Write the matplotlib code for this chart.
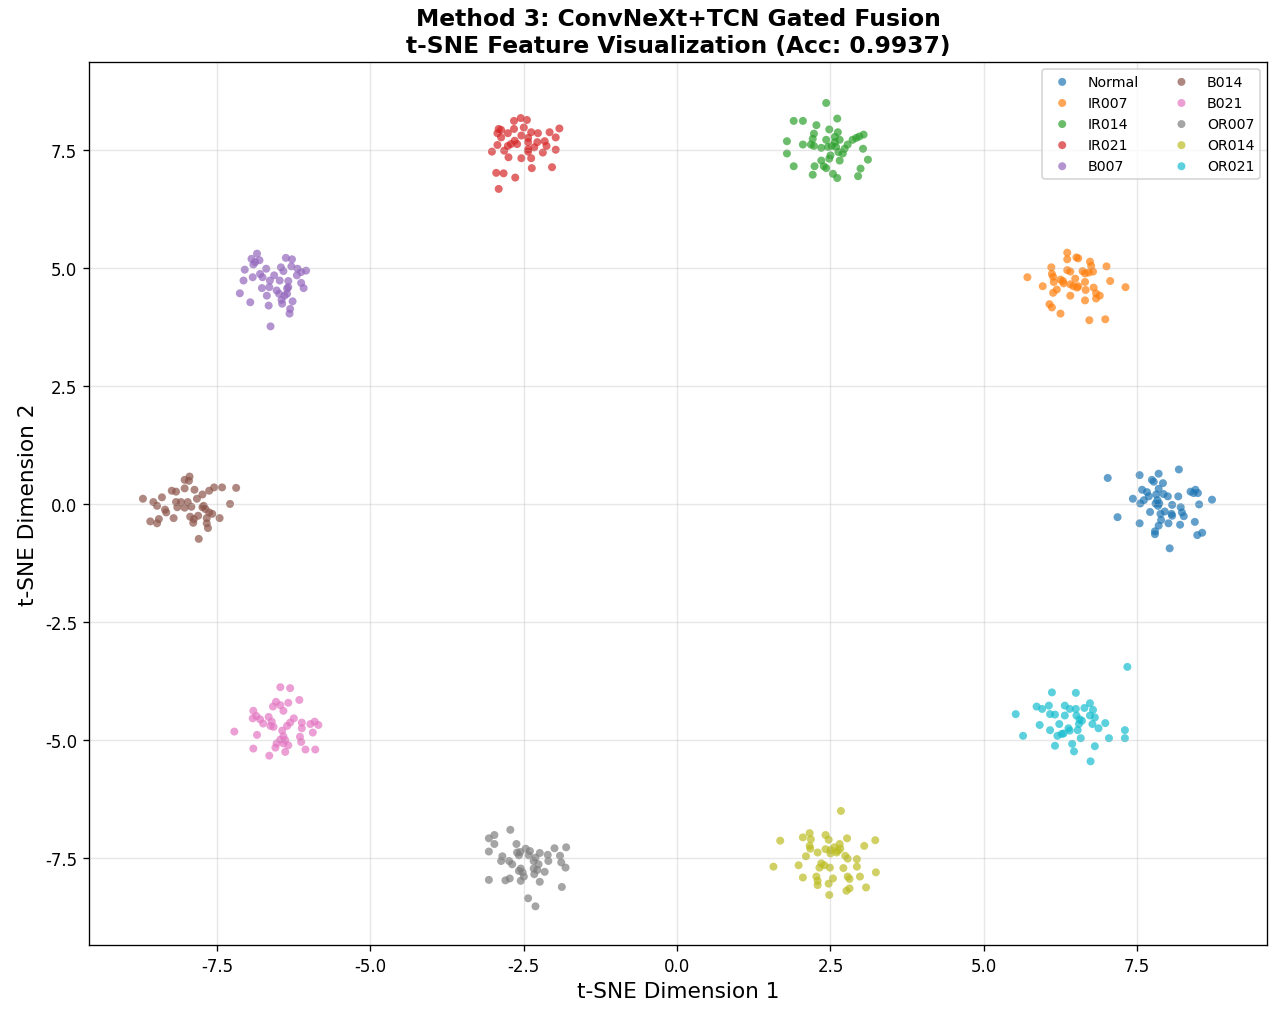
import numpy as np
import matplotlib.pyplot as plt

plt.rcParams['axes.unicode_minus'] = False

classes = ['Normal', 'IR007', 'IR014', 'IR021', 'B007',
           'B014', 'B021', 'OR007', 'OR014', 'OR021']

# t-SNE embedding
normal_x = [7.02, 7.54, 7.85, 8.18, 7.74, 7.77, 7.92, 7.58, 7.66, 7.85, 7.43, 7.55, 7.61, 7.69,
            7.81, 7.93, 8.00, 7.80, 7.86, 7.84, 8.07, 8.17, 8.37, 8.45, 8.49, 8.42, 8.72, 8.51,
            8.21, 8.23, 8.26, 8.06, 8.07, 7.95, 7.88, 7.71, 7.18, 7.54, 7.85, 7.89, 8.01, 8.20,
            8.44, 7.79, 7.79, 8.48, 8.56, 8.03, 7.83]
normal_y = [0.55, 0.61, 0.64, 0.73, 0.51, 0.47, 0.44, 0.30, 0.25, 0.32, 0.11, 0.01, 0.08, 0.16,
            0.20, 0.21, 0.16, 0.01, 0.01, -0.04, -0.02, 0.16, 0.26, 0.30, 0.23, 0.23, 0.09, -0.01,
            -0.07, -0.18, -0.26, -0.21, -0.25, -0.16, -0.21, -0.17, -0.28, -0.41, -0.46, -0.34,
            -0.41, -0.44, -0.38, -0.58, -0.64, -0.66, -0.61, -0.94, 0.08]

ir007_x = [6.36, 6.36, 6.51, 6.54, 6.73, 6.75, 7.00, 6.10, 5.71, 6.11, 6.13, 6.36, 6.41, 6.61,
           6.65, 6.71, 6.78, 6.14, 6.25, 6.29, 6.30, 6.41, 6.49, 6.46, 6.52, 6.54, 6.65, 5.96,
           6.19, 6.13, 6.66, 6.79, 6.83, 6.89, 6.83, 6.41, 6.65, 7.06, 7.31, 6.07, 6.11, 6.25,
           6.72, 6.98]
ir007_y = [5.32, 5.18, 5.22, 5.20, 5.13, 5.04, 5.03, 5.01, 4.80, 4.87, 4.81, 4.95, 4.92, 4.93,
           4.88, 4.90, 4.92, 4.70, 4.75, 4.72, 4.67, 4.65, 4.77, 4.61, 4.58, 4.61, 4.70, 4.61,
           4.54, 4.47, 4.53, 4.58, 4.46, 4.41, 4.35, 4.41, 4.31, 4.72, 4.59, 4.23, 4.16, 4.03,
           3.89, 3.91]

ir014_x = [2.43, 1.90, 2.05, 2.61, 2.27, 2.48, 2.62, 2.23, 1.79, 2.21, 2.43, 2.57, 2.65, 2.92,
           2.97, 3.04, 2.05, 2.18, 2.23, 2.35, 2.46, 2.52, 2.59, 2.73, 2.78, 2.86, 1.79, 3.03,
           2.70, 2.50, 2.48, 2.35, 2.65, 3.11, 1.90, 2.24, 2.39, 2.43, 2.21, 2.54, 2.61, 2.95,
           2.99, 2.57, 2.63]
ir014_y = [8.49, 8.11, 8.11, 8.16, 8.02, 7.93, 7.87, 7.84, 7.68, 7.73, 7.71, 7.77, 7.71, 7.75,
           7.78, 7.82, 7.61, 7.61, 7.58, 7.54, 7.56, 7.58, 7.56, 7.52, 7.61, 7.71, 7.42, 7.52,
           7.42, 7.38, 7.31, 7.27, 7.27, 7.29, 7.15, 7.15, 7.15, 7.11, 6.97, 6.99, 6.90, 6.94,
           7.10, 7.66, 7.45]

ir021_x = [-2.66, -2.55, -2.45, -2.91, -2.87, -2.93, -2.66, -2.50, -2.76, -2.87, -2.54, -2.38,
           -2.27, -2.08, -1.92, -1.98, -2.65, -2.43, -2.28, -2.16, -2.13, -2.76, -2.71, -2.93,
           -3.02, -2.82, -2.43, -2.43, -2.19, -1.98, -2.75, -2.54, -2.38, -2.37, -2.04, -2.95,
           -2.83, -2.64, -2.91, -2.43, -2.33, -2.61]
ir021_y = [8.11, 8.17, 8.13, 7.94, 7.92, 7.85, 7.94, 7.97, 7.85, 7.76, 7.80, 7.87, 7.85, 7.87,
           7.95, 7.76, 7.69, 7.75, 7.66, 7.68, 7.58, 7.58, 7.62, 7.60, 7.46, 7.48, 7.51, 7.46,
           7.44, 7.50, 7.34, 7.32, 7.32, 7.11, 7.13, 7.01, 7.00, 6.91, 6.67, 7.66, 7.55, 7.62]

b007_x = [-6.85, -6.94, -6.88, -6.81, -6.91, -6.38, -6.28, -7.05, -6.70, -6.46, -6.42, -6.29,
          -6.19, -6.13, -6.05, -6.20, -7.07, -6.92, -6.80, -6.76, -6.64, -6.57, -6.48, -6.34,
          -6.13, -7.13, -6.77, -6.65, -6.53, -6.49, -6.34, -6.09, -6.69, -6.36, -6.45, -6.44,
          -6.96, -6.66, -6.27, -6.31, -6.32, -6.63, -6.36, -6.40]
b007_y = [5.30, 5.19, 5.12, 5.16, 5.07, 5.21, 5.18, 4.96, 4.98, 5.01, 4.93, 5.03, 4.98, 4.91,
          4.94, 4.84, 4.73, 4.80, 4.87, 4.80, 4.73, 4.84, 4.73, 4.72, 4.68, 4.46, 4.57, 4.59,
          4.52, 4.45, 4.59, 4.57, 4.41, 4.45, 4.32, 4.24, 4.27, 4.20, 4.29, 4.13, 4.03, 3.76,
          4.56, 4.41]

b014_x = [-7.95, -8.03, -7.96, -8.24, -8.17, -8.03, -7.87, -7.74, -7.63, -7.55, -7.42, -7.19,
          -8.71, -8.40, -8.54, -8.48, -8.35, -8.33, -8.17, -8.09, -7.98, -8.15, -8.03, -7.92,
          -7.83, -7.74, -7.69, -7.63, -7.94, -7.88, -7.89, -7.81, -7.67, -7.67, -7.65, -7.46,
          -7.29, -8.21, -8.59, -8.48, -8.45, -7.80, -7.58, -7.72]
b014_y = [0.58, 0.51, 0.49, 0.28, 0.26, 0.33, 0.30, 0.20, 0.28, 0.35, 0.35, 0.34, 0.11, 0.14,
          0.04, -0.04, -0.12, -0.18, 0.04, 0.04, 0.04, -0.07, -0.08, -0.06, 0.11, -0.07, -0.11,
          -0.18, -0.27, -0.32, -0.40, -0.25, -0.30, -0.41, -0.51, -0.30, 0.00, -0.30, -0.37,
          -0.41, -0.32, -0.74, -0.21, -0.04]

b021_x = [-6.47, -6.31, -6.16, -6.34, -6.54, -6.59, -6.47, -6.42, -6.91, -6.86, -6.92, -6.80,
          -6.75, -6.66, -6.61, -6.63, -6.58, -6.25, -6.31, -6.36, -6.12, -5.98, -5.91, -5.85,
          -6.12, -5.94, -7.22, -6.85, -6.44, -6.42, -6.47, -6.53, -6.39, -6.15, -6.13, -6.34,
          -6.91, -6.55, -6.39, -6.06, -5.90, -6.65, -6.42]
b021_y = [-3.88, -3.90, -4.15, -4.21, -4.19, -4.29, -4.26, -4.38, -4.38, -4.49, -4.54, -4.56,
          -4.65, -4.51, -4.61, -4.70, -4.72, -4.54, -4.63, -4.70, -4.63, -4.66, -4.61, -4.68,
          -4.75, -4.84, -4.82, -4.89, -4.80, -4.92, -4.99, -5.07, -5.00, -4.93, -5.04, -5.11,
          -5.18, -5.16, -5.25, -5.20, -5.20, -5.33, -5.07]

or007_x = [-2.72, -3.07, -2.98, -2.98, -3.07, -2.62, -2.47, -2.56, -2.58, -2.42, -2.40, -2.24,
           -2.11, -2.00, -1.81, -1.91, -1.89, -1.82, -2.10, -2.85, -2.87, -2.74, -2.69, -2.55,
           -2.58, -2.52, -2.34, -2.31, -2.26, -2.34, -2.28, -2.16, -2.33, -2.50, -2.55, -2.73,
           -2.80, -3.07, -2.24, -1.88, -2.43, -2.31, -2.61]
or007_y = [-6.90, -7.08, -7.01, -7.20, -7.36, -7.20, -7.30, -7.37, -7.44, -7.44, -7.35, -7.39,
           -7.43, -7.29, -7.27, -7.45, -7.59, -7.70, -7.56, -7.46, -7.56, -7.56, -7.63, -7.72,
           -7.77, -7.80, -7.56, -7.49, -7.63, -7.72, -7.75, -7.79, -7.84, -7.89, -7.98, -7.93,
           -7.97, -7.96, -8.00, -8.11, -8.35, -8.52, -7.38]

or014_x = [2.67, 1.68, 2.05, 2.16, 2.18, 2.42, 2.47, 2.77, 3.05, 3.23, 2.16, 2.17, 2.29, 2.42,
           2.50, 2.56, 2.65, 2.66, 2.60, 2.50, 2.10, 2.74, 2.78, 2.93, 1.57, 1.98, 2.35, 2.40,
           2.32, 2.49, 2.71, 2.93, 2.05, 2.27, 2.29, 2.29, 2.54, 2.47, 2.78, 2.81, 2.98, 3.24,
           3.08, 2.81, 2.76, 2.48, 2.62]
or014_y = [-6.50, -7.13, -7.06, -6.97, -7.10, -7.01, -7.11, -7.08, -7.24, -7.12, -7.24, -7.30,
           -7.38, -7.31, -7.33, -7.27, -7.20, -7.30, -7.38, -7.40, -7.46, -7.45, -7.51, -7.52,
           -7.68, -7.65, -7.61, -7.65, -7.70, -7.70, -7.71, -7.68, -7.91, -7.89, -7.98, -8.07,
           -7.93, -8.04, -7.89, -7.94, -7.89, -7.80, -8.12, -8.14, -8.19, -8.28, -7.34]

or021_x = [7.34, 6.11, 6.50, 5.86, 5.95, 6.06, 6.32, 6.40, 6.50, 6.64, 6.73, 6.78, 5.52, 6.08,
           6.16, 6.32, 6.51, 6.60, 6.73, 6.81, 6.55, 6.77, 6.98, 5.91, 6.23, 6.87, 6.08, 6.38,
           6.53, 6.30, 6.20, 5.64, 6.58, 7.04, 7.30, 7.30, 6.44, 6.16, 6.81, 6.47, 6.74, 6.27,
           6.40, 6.56]
or021_y = [-3.45, -3.99, -4.00, -4.29, -4.34, -4.27, -4.27, -4.34, -4.34, -4.32, -4.22, -4.36,
           -4.45, -4.45, -4.46, -4.48, -4.48, -4.59, -4.48, -4.52, -4.66, -4.66, -4.64, -4.68,
           -4.66, -4.75, -4.79, -4.75, -4.79, -4.86, -4.91, -4.91, -4.96, -4.96, -4.79, -4.96,
           -5.08, -5.12, -5.13, -5.24, -5.45, -4.87, -4.80, -4.56]

xs = [normal_x, ir007_x, ir014_x, ir021_x, b007_x, b014_x, b021_x, or007_x, or014_x, or021_x]
ys = [normal_y, ir007_y, ir014_y, ir021_y, b007_y, b014_y, b021_y, or007_y, or014_y, or021_y]

fig = plt.figure(figsize=(1280 / 120, 1014 / 120), dpi=120)
ax = fig.add_axes([0.0695, 0.067, 0.9205, 0.871])

colors = plt.cm.tab10(np.arange(10))
for i, name in enumerate(classes):
    ax.scatter(xs[i], ys[i], s=23, color=colors[i], alpha=0.7,
               edgecolors='none', label=name)

ax.set_xlim(-9.59, 9.62)
ax.set_ylim(-9.34, 9.36)
ax.set_xlabel('t-SNE Dimension 1', fontsize=13)
ax.set_ylabel('t-SNE Dimension 2', fontsize=13)
ax.set_title('Method 3: ConvNeXt+TCN Gated Fusion\nt-SNE Feature Visualization (Acc: 0.9937)',
             fontsize=14, fontweight='bold')
ax.grid(True, alpha=0.3)
ax.legend(loc='upper right', ncol=2, fontsize=8.5)

fig.savefig('out.png', dpi=120)
